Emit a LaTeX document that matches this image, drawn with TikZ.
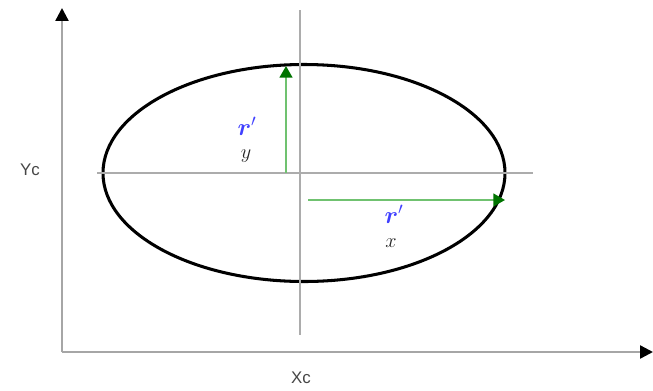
\documentclass[tikz,border=0pt]{standalone}
\usepackage{amsmath}
\usepackage{fontspec}
\setmainfont{Liberation Sans}
\usetikzlibrary{arrows.meta, positioning}

\begin{document}
\begin{tikzpicture}[
    % one unit = one pixel of the reference, y pointing down
    x=0.03cm,
    y=-0.03cm,
    >=Stealth,
    axis/.style={draw=gray!70, line width=2pt},
    guide/.style={draw=gray!65, line width=2pt},
    radius line/.style={draw=green!40!gray!80, line width=1.7pt, -{Triangle[length=10pt, width=11pt, color=green!45!black]}},
    lbl/.style={font=\Large, text=gray!55!black},
    rname/.style={inner sep=0pt, font=\huge, text=blue!75},
    rindex/.style={inner sep=0pt, font=\LARGE, text=gray!30!black}
]
    \useasboundingbox (0,0) rectangle (653,390);

    % --- Coordinate axes ---
    \coordinate (O) at (62,352);
    \coordinate (ytip) at (62,8);
    \coordinate (xtip) at (653,352);
    \draw[axis, -{Triangle[length=11pt, width=11pt, color=black]}] (O) -- (ytip);
    \draw[axis, -{Triangle[length=11pt, width=11pt, color=black]}] (O) -- (xtip);

    % --- Axis labels ---
    \node[lbl] (yc) at (30,170) {Yc};
    \node[lbl] (xc) at (301,378) {Xc};

    % --- Ellipse and its centre lines ---
    \coordinate (C) at (304,173);
    \draw[black, line width=2.6pt] (C) ellipse (201 and 108.5);
    \coordinate (hl) at (97,173);
    \coordinate (hr) at (533,173);
    \coordinate (vt) at (300,10);
    \coordinate (vb) at (300,335);
    \draw[guide] (hl) -- (hr);
    \draw[guide] (vt) -- (vb);

    % --- Radii ---
    \coordinate (ry0) at (286,173);
    \coordinate (ry1) at (286,66);
    \coordinate (rx0) at (308,200);
    \coordinate (rx1) at (505,200);
    \draw[radius line] (ry0) -- (ry1);
    \draw[radius line] (rx0) -- (rx1);

    % --- Radius labels (index set apart below the letter) ---
    \node[rname] (ry) at (247,126) {$\boldsymbol{r}'$};
    \node[rindex] (ryidx) at (246,156) {$y$};
    \node[rname] (rx) at (394,214) {$\boldsymbol{r}'$};
    \node[rindex] (rxidx) at (391,243) {$x$};

\end{tikzpicture}
\end{document}
